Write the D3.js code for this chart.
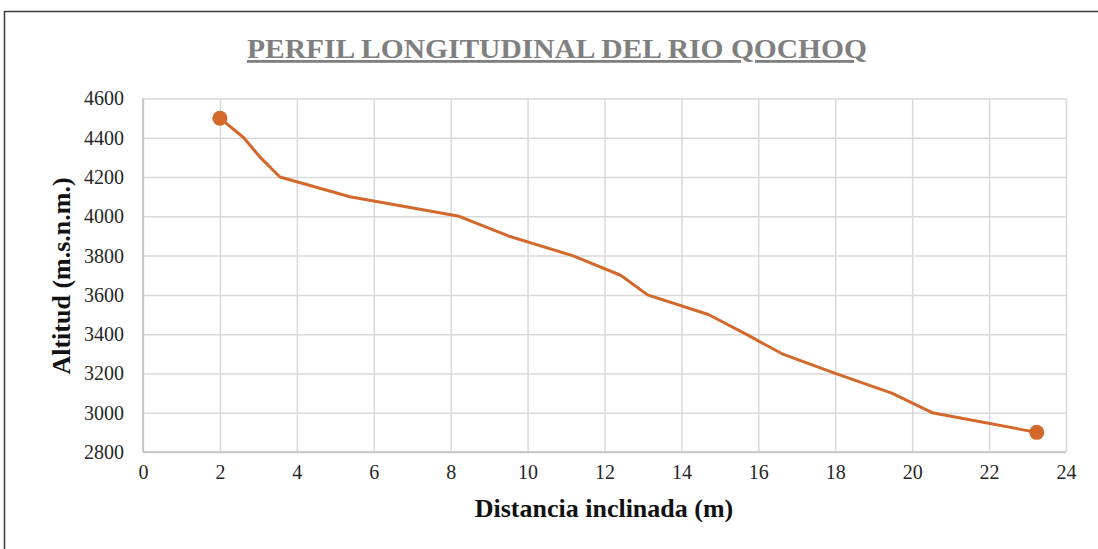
<!DOCTYPE html>
<html>
<head>
<meta charset="utf-8">
<script src="https://cdn.jsdelivr.net/npm/d3@7"></script>
<style>
  body { margin: 0; background: #fff; }
  svg { display: block; font-family: "Liberation Serif", "Times New Roman", serif; }
</style>
</head>
<body>
<div id="chart"></div>
<script>
// distance (m) and altitude (m.s.n.m.)
const distancia = [2.0, 2.62, 3.05, 3.56, 5.38, 8.22, 9.5, 11.17, 12.42, 13.12, 14.7, 15.68, 16.62, 18.0, 19.47, 20.52, 23.24];
const altitud   = [4500, 4400, 4300, 4200, 4100, 4000, 3900, 3800, 3700, 3600, 3500, 3400, 3300, 3200, 3100, 3000, 2900];
const xTicks = [0, 2, 4, 6, 8, 10, 12, 14, 16, 18, 20, 22, 24];
const yTicks = [2800, 3000, 3200, 3400, 3600, 3800, 4000, 4200, 4400, 4600];

const W = 1098, H = 549;
const margin = {top: 98.5, right: 32, bottom: 97, left: 143};
const width = W - margin.left - margin.right,
      height = H - margin.top - margin.bottom;

const svg = d3.select("#chart").append("svg")
    .attr("width", W)
    .attr("height", H);

// outer frame
svg.append("rect")
    .attr("x", 4.5).attr("y", 11.5)
    .attr("width", W + 10).attr("height", H + 10)
    .attr("fill", "none")
    .attr("stroke", "#3a3a3a")
    .attr("stroke-width", 1.5);

// title
svg.append("text")
    .attr("x", 557).attr("y", 58)
    .attr("text-anchor", "middle")
    .attr("font-size", 28)
    .attr("font-weight", "bold")
    .attr("fill", "#7f7f7f")
    .attr("text-decoration", "underline")
    .attr("textLength", 620)
    .attr("lengthAdjust", "spacingAndGlyphs")
    .text("PERFIL LONGITUDINAL DEL RIO QOCHOQ");

const g = svg.append("g")
    .attr("transform", "translate(" + margin.left + "," + margin.top + ")");

const x = d3.scaleLinear().domain([0, 24]).range([0, width]);
const y = d3.scaleLinear().domain([2800, 4600]).range([height, 0]);

// grid
g.append("g")
    .call(d3.axisLeft(y).tickValues(yTicks).tickSize(-width).tickFormat(""))
    .call(s => s.select(".domain").remove())
    .selectAll("line").attr("stroke", "#d9d9d9").attr("stroke-width", 1.5);

g.append("g")
    .attr("transform", "translate(0," + height + ")")
    .call(d3.axisBottom(x).tickValues(xTicks).tickSize(-height).tickFormat(""))
    .call(s => s.select(".domain").remove())
    .selectAll("line").attr("stroke", "#d9d9d9").attr("stroke-width", 1.5);

// axis lines
g.append("line")
    .attr("x1", 0).attr("x2", 0).attr("y1", 0).attr("y2", height)
    .attr("stroke", "#bfbfbf").attr("stroke-width", 1.5);
g.append("line")
    .attr("x1", 0).attr("x2", width).attr("y1", height).attr("y2", height)
    .attr("stroke", "#bfbfbf").attr("stroke-width", 1.5);

// tick labels
g.append("g")
    .call(d3.axisLeft(y).tickValues(yTicks).tickSize(0).tickPadding(19).tickFormat(d3.format("d")))
    .call(s => s.select(".domain").remove())
    .selectAll("text")
    .attr("font-family", "Liberation Serif")
    .attr("font-size", 20)
    .attr("fill", "#262626");

g.append("g")
    .attr("transform", "translate(0," + height + ")")
    .call(d3.axisBottom(x).tickValues(xTicks).tickSize(0).tickPadding(13))
    .call(s => s.select(".domain").remove())
    .selectAll("text")
    .attr("font-family", "Liberation Serif")
    .attr("font-size", 20)
    .attr("fill", "#262626");

// axis titles
svg.append("text")
    .attr("transform", "translate(70,276) rotate(-90)")
    .attr("text-anchor", "middle")
    .attr("font-size", 26)
    .attr("font-weight", "bold")
    .attr("fill", "#111")
    .text("Altitud (m.s.n.m.)");

svg.append("text")
    .attr("x", 604).attr("y", 517)
    .attr("text-anchor", "middle")
    .attr("font-size", 26)
    .attr("font-weight", "bold")
    .attr("fill", "#111")
    .text("Distancia inclinada (m)");

// profile line
const pts = distancia.map((d, i) => [d, altitud[i]]);
const line = d3.line().x(d => x(d[0])).y(d => y(d[1]));

g.append("path")
    .datum(pts)
    .attr("d", line)
    .attr("fill", "none")
    .attr("stroke", "#d2692a")
    .attr("stroke-width", 3)
    .attr("stroke-linejoin", "round");

// end markers
g.selectAll("circle.end")
    .data([pts[0], pts[pts.length - 1]])
    .enter().append("circle")
    .attr("class", "end")
    .attr("cx", d => x(d[0]))
    .attr("cy", d => y(d[1]))
    .attr("r", 7.5)
    .attr("fill", "#d2692a");
</script>
</body>
</html>
